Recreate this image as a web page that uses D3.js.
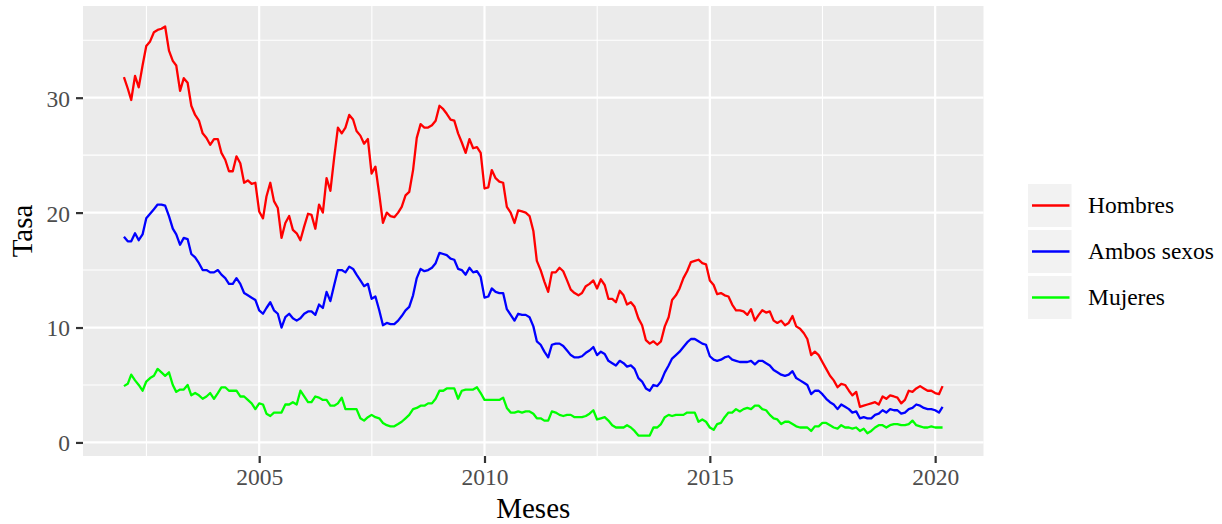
<!DOCTYPE html>
<html>
<head>
<meta charset="utf-8">
<script src="https://cdn.jsdelivr.net/npm/d3@7"></script>
<style>
  body { margin: 0; background: #fff; }
  svg text { font-family: "Liberation Serif", "Times New Roman", serif; }
</style>
</head>
<body>
<div id="chart"></div>
<script>
// monthly series, Jan 2002 .. Mar 2020 (one row per year)
var startMonth = '2002-01-01';

var hombres = [
  31.8,30.8,29.8,31.9,30.9,32.8,34.5,34.9,35.7,35.9,36.0,36.2,
  34.1,33.2,32.8,30.6,31.7,31.3,29.3,28.5,28.0,26.9,26.5,25.9,
  26.4,26.4,25.2,24.6,23.6,23.6,24.9,24.3,22.6,22.8,22.5,22.6,
  20.1,19.5,21.4,22.6,21.0,20.4,17.8,19.1,19.7,18.5,18.2,17.6,
  18.8,19.9,19.8,18.6,20.7,20.0,23.0,21.9,24.8,27.4,26.9,27.4,
  28.5,28.1,27.1,26.7,26.0,26.4,23.4,24.0,21.6,19.1,20.0,19.7,
  19.6,20.0,20.5,21.5,21.8,23.7,26.5,27.7,27.4,27.4,27.6,28.0,
  29.3,29.0,28.6,28.1,28.0,26.9,26.1,25.2,26.4,25.6,25.7,25.2,
  22.1,22.2,23.7,23.0,22.7,22.6,20.5,20.0,19.1,20.2,20.1,20.0,
  19.7,18.4,15.8,15.0,14.0,13.1,14.8,14.8,15.2,14.9,14.1,13.3,
  13.0,12.8,13.0,13.6,13.8,14.1,13.4,14.2,13.7,12.5,12.5,12.2,
  13.2,12.8,12.0,12.2,11.8,10.8,10.2,8.9,8.6,8.8,8.5,8.8,
  10.1,10.9,12.4,12.8,13.4,14.3,14.9,15.7,15.8,15.9,15.6,15.5,
  14.1,13.7,12.9,13.0,12.8,12.7,12.0,11.5,11.5,11.4,11.1,11.6,
  10.6,11.1,11.5,11.3,11.4,10.6,10.4,10.6,10.2,10.4,11.0,10.1,
  9.9,9.5,9.0,7.6,7.9,7.6,7.0,6.4,5.8,5.4,4.8,5.1,
  5.0,4.5,4.1,4.4,3.1,3.2,3.3,3.4,3.5,3.3,4.0,3.8,
  4.1,4.0,3.9,3.4,3.7,4.5,4.4,4.7,4.9,4.7,4.5,4.5,
  4.3,4.2,4.9
];

var ambos = [
  17.9,17.5,17.5,18.2,17.6,18.1,19.5,19.9,20.3,20.7,20.7,20.6,
  19.7,18.6,18.1,17.2,17.8,17.7,16.4,16.1,15.6,15.0,15.0,14.8,
  14.8,15.0,14.6,14.3,13.8,13.8,14.3,13.8,13.0,12.8,12.6,12.4,
  11.5,11.2,11.7,12.2,11.5,11.2,10.0,10.9,11.2,10.8,10.6,10.8,
  11.2,11.4,11.4,11.1,12.0,11.7,13.1,12.3,13.7,15.0,15.0,14.8,
  15.3,15.1,14.6,14.1,13.6,13.8,12.5,12.7,11.5,10.2,10.4,10.3,
  10.3,10.6,11.0,11.5,11.8,12.8,14.3,15.1,14.9,15.0,15.2,15.6,
  16.5,16.4,16.3,16.0,15.9,15.1,15.0,14.6,15.2,14.8,14.9,14.4,
  12.6,12.7,13.4,13.1,13.0,13.0,11.6,11.1,10.6,11.2,11.1,11.1,
  10.9,10.1,8.8,8.5,7.9,7.4,8.5,8.6,8.6,8.4,8.0,7.6,
  7.4,7.4,7.5,7.8,8.0,8.3,7.6,7.9,7.7,7.1,6.9,6.7,
  7.1,6.9,6.6,6.7,6.4,5.6,5.3,4.7,4.5,5.0,4.9,5.3,
  6.1,6.7,7.3,7.6,7.9,8.3,8.7,9.0,9.0,8.8,8.6,8.5,
  7.5,7.2,7.1,7.2,7.4,7.5,7.2,7.1,7.0,7.0,7.0,7.1,
  6.8,7.1,7.1,6.9,6.7,6.3,6.1,5.9,5.8,5.9,6.2,5.6,
  5.4,5.2,5.0,4.2,4.5,4.5,4.2,3.8,3.5,3.3,2.9,3.3,
  3.1,2.9,2.6,2.7,2.1,2.2,2.1,2.1,2.4,2.5,2.8,2.6,
  2.9,2.8,2.8,2.5,2.6,2.9,3.0,3.3,3.2,3.0,2.9,2.9,
  2.8,2.6,3.1
];

var mujeres = [
  4.9,5.1,5.9,5.4,5.0,4.5,5.3,5.6,5.8,6.4,6.1,5.8,
  6.1,5.0,4.4,4.6,4.6,5.0,4.1,4.3,4.1,3.8,4.0,4.3,
  3.8,4.3,4.8,4.8,4.5,4.5,4.5,4.0,4.0,3.7,3.4,2.9,
  3.4,3.3,2.5,2.3,2.6,2.6,2.6,3.3,3.3,3.5,3.3,4.5,
  4.0,3.5,3.5,4.0,3.9,3.7,3.7,3.2,3.2,3.4,3.9,2.9,
  2.9,2.9,2.9,2.1,1.9,2.2,2.4,2.2,2.1,1.7,1.5,1.4,
  1.4,1.6,1.8,2.1,2.4,2.9,3.0,3.2,3.2,3.4,3.4,3.8,
  4.5,4.5,4.7,4.7,4.7,3.8,4.5,4.6,4.6,4.6,4.8,4.3,
  3.7,3.7,3.7,3.7,3.7,3.9,3.0,2.6,2.6,2.7,2.6,2.7,
  2.7,2.5,2.1,2.1,1.9,1.9,2.7,2.6,2.4,2.3,2.4,2.4,
  2.2,2.2,2.2,2.3,2.5,2.8,2.0,2.1,2.2,1.9,1.5,1.3,
  1.3,1.3,1.5,1.3,1.0,0.6,0.6,0.6,0.6,1.3,1.3,1.6,
  2.2,2.4,2.3,2.4,2.4,2.4,2.6,2.6,2.6,1.8,2.0,1.8,
  1.3,1.1,1.6,1.7,2.2,2.6,2.6,2.9,2.7,2.9,3.0,2.9,
  3.2,3.2,2.9,2.8,2.4,2.1,2.0,1.6,1.8,1.8,1.6,1.4,
  1.3,1.3,1.3,1.0,1.4,1.4,1.7,1.7,1.5,1.3,1.2,1.5,
  1.3,1.3,1.2,1.3,1.0,1.2,0.8,1.0,1.3,1.5,1.5,1.3,
  1.5,1.6,1.6,1.5,1.5,1.6,1.9,1.5,1.4,1.3,1.3,1.4,
  1.3,1.3,1.3
];

var seriesNames = ['Hombres', 'Ambos sexos', 'Mujeres'];
var seriesColors = ['#FF0000', '#0000FF', '#00FF00'];
var yTicks = [0, 10, 20, 30];
var xTickYears = [2005, 2010, 2015, 2020];

// sizes
var width = 1222,
    height = 524,
    panel = { left: 83, right: 983.5, top: 6, bottom: 456 };

var svg = d3.select('#chart').append('svg')
  .attr('width', width)
  .attr('height', height);

var t0 = d3.timeParse('%Y-%m-%d')(startMonth);
var dates = hombres.map(function(d, i) { return d3.timeMonth.offset(t0, i); });
var allSeries = [hombres, ambos, mujeres];

// ggplot style 5% expansion
var xMin = +dates[0], xMax = +dates[dates.length - 1];
var xPad = (xMax - xMin) * 0.05;
var xScale = d3.scaleTime()
  .domain([new Date(xMin - xPad), new Date(xMax + xPad)])
  .range([panel.left, panel.right]);

var allVals = d3.merge(allSeries);
var yLo = d3.min(allVals), yHi = d3.max(allVals);
var yPad = (yHi - yLo) * 0.05;
var yScale = d3.scaleLinear()
  .domain([yLo - yPad, yHi + yPad])
  .range([panel.bottom, panel.top]);

// panel background
svg.append('rect')
  .attr('x', panel.left)
  .attr('y', panel.top)
  .attr('width', panel.right - panel.left)
  .attr('height', panel.bottom - panel.top)
  .attr('fill', '#EBEBEB');

var grid = svg.append('g');

// minor grid
var yMinor = yTicks.map(function(d) { return d + 5; });
var xMajorDates = xTickYears.map(function(y) { return new Date(y, 0, 1); });
var xMinorDates = [new Date(2000, 0, 1)].concat(xMajorDates).slice(0, -1).map(function(d, i) {
  return new Date((+d + +xMajorDates[i]) / 2);
}).concat([new Date((+xMajorDates[3] + +new Date(2025, 0, 1)) / 2)]);

grid.selectAll('.yminor').data(yMinor).enter().append('line')
  .attr('x1', panel.left).attr('x2', panel.right)
  .attr('y1', function(d) { return yScale(d); })
  .attr('y2', function(d) { return yScale(d); })
  .attr('stroke', '#fff').attr('stroke-width', 1.1);

grid.selectAll('.xminor').data(xMinorDates.filter(function(d) {
    return xScale(d) > panel.left && xScale(d) < panel.right;
  })).enter().append('line')
  .attr('y1', panel.top).attr('y2', panel.bottom)
  .attr('x1', function(d) { return xScale(d); })
  .attr('x2', function(d) { return xScale(d); })
  .attr('stroke', '#fff').attr('stroke-width', 1.1);

// major grid
grid.selectAll('.ymajor').data(yTicks).enter().append('line')
  .attr('x1', panel.left).attr('x2', panel.right)
  .attr('y1', function(d) { return yScale(d); })
  .attr('y2', function(d) { return yScale(d); })
  .attr('stroke', '#fff').attr('stroke-width', 2.2);

grid.selectAll('.xmajor').data(xMajorDates).enter().append('line')
  .attr('y1', panel.top).attr('y2', panel.bottom)
  .attr('x1', function(d) { return xScale(d); })
  .attr('x2', function(d) { return xScale(d); })
  .attr('stroke', '#fff').attr('stroke-width', 2.2);

// lines
var line = d3.line()
  .x(function(d, i) { return xScale(dates[i]); })
  .y(function(d) { return yScale(d); });

svg.selectAll('.serie').data(allSeries).enter().append('path')
  .attr('d', line)
  .attr('fill', 'none')
  .attr('stroke', function(d, i) { return seriesColors[i]; })
  .attr('stroke-width', 2.3)
  .attr('stroke-linejoin', 'round');

// axes (ggplot look: ticks only, no domain line)
var xAxis = d3.axisBottom(xScale)
  .tickValues(xMajorDates)
  .tickFormat(d3.timeFormat('%Y'))
  .tickSizeInner(7).tickSizeOuter(0).tickPadding(5);

var xAxisGroup = svg.append('g')
  .attr('transform', 'translate(0,' + panel.bottom + ')')
  .call(xAxis);

var yAxis = d3.axisLeft(yScale)
  .tickValues(yTicks)
  .tickSizeInner(7).tickSizeOuter(0).tickPadding(6);

var yAxisGroup = svg.append('g')
  .attr('transform', 'translate(' + panel.left + ',0)')
  .call(yAxis);

[xAxisGroup, yAxisGroup].forEach(function(g) {
  g.select('.domain').remove();
  g.selectAll('.tick line').attr('stroke', '#333333').attr('stroke-width', 2.2);
  g.selectAll('.tick text')
    .attr('fill', '#4D4D4D')
    .style('font-size', '23.5px')
    .style('font-family', '"Liberation Serif", serif');
});
yAxisGroup.selectAll('.tick text').attr('dy', '0.36em');
xAxisGroup.selectAll('.tick text').attr('dy', '0.73em');

// axis titles
svg.append('text')
  .attr('x', (panel.left + panel.right) / 2)
  .attr('y', 518)
  .attr('text-anchor', 'middle')
  .style('font-size', '29px')
  .attr('fill', '#000')
  .text('Meses');

svg.append('text')
  .attr('transform', 'rotate(-90)')
  .attr('x', -(panel.top + panel.bottom) / 2)
  .attr('y', 32)
  .attr('text-anchor', 'middle')
  .style('font-size', '29px')
  .attr('fill', '#000')
  .text('Tasa');

// legend
var legend = svg.append('g').attr('transform', 'translate(1028,184)');
var keys = legend.selectAll('.key').data(seriesNames).enter().append('g')
  .attr('transform', function(d, i) { return 'translate(0,' + (i * 46) + ')'; });

keys.append('rect')
  .attr('width', 43.5).attr('height', 43)
  .attr('fill', '#F2F2F2');

keys.append('line')
  .attr('x1', 4).attr('x2', 41.5)
  .attr('y1', 21.5).attr('y2', 21.5)
  .attr('stroke', function(d, i) { return seriesColors[i]; })
  .attr('stroke-width', 2.3);

keys.append('text')
  .attr('x', 60)
  .attr('y', 21.5)
  .attr('dy', '0.33em')
  .style('font-size', '23.5px')
  .attr('fill', '#000')
  .text(function(d) { return d; });
</script>
</body>
</html>
